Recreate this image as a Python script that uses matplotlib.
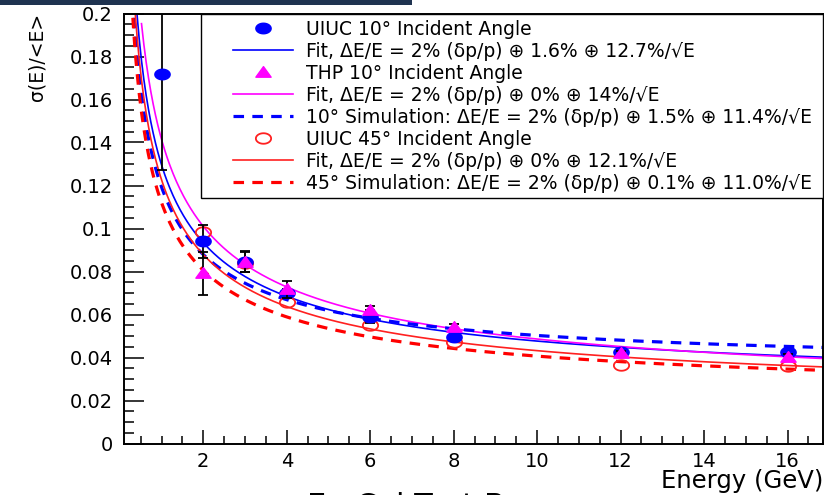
import numpy as np
import matplotlib
matplotlib.use("Agg")
import matplotlib.pyplot as plt
from matplotlib.lines import Line2D
from matplotlib.patches import Rectangle
from matplotlib.path import Path

plt.rcParams['font.family'] = ['DejaVu Sans']

# measured points (energy in GeV)
uiuc10_E = [1, 2, 3, 4, 6, 8, 12, 16]
uiuc10_res = [0.172, 0.094, 0.0846, 0.070, 0.059, 0.0497, 0.0427, 0.0427]
uiuc10_err = [0.045, 0.0076, 0.0046, 0.002, 0.003, 0.002, 0.001, 0.001]

thp10_E = [2, 3, 4, 6, 8, 12, 16]
thp10_res = [0.0793, 0.0846, 0.0717, 0.062, 0.0543, 0.042, 0.0404]
thp10_err = [0.010, 0.0048, 0.004, 0.002, 0.0015, 0.001, 0.001]

uiuc45_E = [2, 3, 4, 6, 8, 12, 16]
uiuc45_res = [0.0985, 0.084, 0.066, 0.055, 0.047, 0.0365, 0.036]

# fit / simulation terms from the legend: dp/p term, constant, stochastic
curve_dp = [0.02, 0.02, 0.02, 0.02, 0.02]
curve_const = [0.016, 0.0, 0.015, 0.0, 0.001]
curve_stoch = [0.127, 0.14, 0.114, 0.121, 0.110]
curve_linear = [False, False, True, False, True]  # sims add dp/p and const linearly
curve_start = [0.1, 0.5, 0.1, 0.1, 0.1]

legend_labels = [
    "UIUC 10° Incident Angle",
    "Fit, ΔE/E = 2% (δp/p) ⊕ 1.6% ⊕ 12.7%/√E",
    "THP 10° Incident Angle",
    "Fit, ΔE/E = 2% (δp/p) ⊕ 0% ⊕ 14%/√E",
    "10° Simulation: ΔE/E = 2% (δp/p) ⊕ 1.5% ⊕ 11.4%/√E",
    "UIUC 45° Incident Angle",
    "Fit, ΔE/E = 2% (δp/p) ⊕ 0% ⊕ 12.1%/√E",
    "45° Simulation: ΔE/E = 2% (δp/p) ⊕ 0.1% ⊕ 11.0%/√E",
]

y_ticks = [0, 0.02, 0.04, 0.06, 0.08, 0.1, 0.12, 0.14, 0.16, 0.18, 0.2]
y_ticklabels = ["0", "0.02", "0.04", "0.06", "0.08", "0.1", "0.12", "0.14", "0.16", "0.18", "0.2"]
x_ticks = [2, 4, 6, 8, 10, 12, 14, 16]

# the screenshot is stretched sideways, so make wide markers
t = np.linspace(0, 2 * np.pi, 40)
ell = Path(np.column_stack([1.45 * np.cos(t), np.sin(t)]), closed=True)
tri = Path([(-1.3, -0.8), (1.3, -0.8), (0, 1.0), (-1.3, -0.8)], closed=True)

fig = plt.figure(figsize=(8.25, 4.95), dpi=100)
fig.patch.set_facecolor('white')
W, H = 825, 495
ax = fig.add_axes([124 / W, 1 - 443.5 / H, 699 / W, 430 / H])

# slide leftovers around the crop
fig.patches.append(Rectangle((0, 1 - 5 / H), 412 / W, 5 / H, transform=fig.transFigure,
                             facecolor='#1f3350', edgecolor='none'))
fig.text(307 / W, 1 - 515 / H, "EmCal Test Beam", fontsize=22, ha='left', va='baseline', color='black')

E = np.linspace(0.1, 16.85, 600)
styles = [
    dict(color='#0000ff', lw=1.2, ls='-'),
    dict(color='#ff00ff', lw=1.2, ls='-'),
    dict(color='#0000ff', lw=2.3, ls=(0, (3.3, 2.6))),
    dict(color='#ff2020', lw=1.2, ls='-'),
    dict(color='#ff0000', lw=2.3, ls=(0, (3.3, 2.6))),
]
for i in range(5):
    e = E[E >= curve_start[i]]
    if curve_linear[i]:
        c = curve_dp[i] + curve_const[i]
    else:
        c = np.hypot(curve_dp[i], curve_const[i])
    res = np.sqrt(c ** 2 + curve_stoch[i] ** 2 / e)
    ax.plot(e, res, zorder=2, **styles[i])

ax.plot(uiuc45_E, uiuc45_res, ls='none', marker=ell, ms=11, mfc='none', mec='#ff2020', mew=1.3, zorder=3)
ax.errorbar(uiuc10_E, uiuc10_res, yerr=uiuc10_err, fmt='none', ecolor='black', elinewidth=1.3,
            capsize=3.5, capthick=1.3, zorder=4)
ax.plot(uiuc10_E, uiuc10_res, ls='none', marker=ell, ms=11, mfc='#0000ff', mec='#0000ff', zorder=5)
ax.errorbar(thp10_E, thp10_res, yerr=thp10_err, fmt='none', ecolor='black', elinewidth=1.3,
            capsize=3.5, capthick=1.3, zorder=6)
ax.plot(thp10_E, thp10_res, ls='none', marker=tri, ms=11, mfc='#ff00ff', mec='#ff00ff', zorder=7)

ax.set_xlim(0.1, 16.85)
ax.set_ylim(0, 0.2)
ax.set_xticks(x_ticks)
ax.set_xticks(np.arange(0.5, 16.9, 0.5), minor=True)
ax.set_yticks(y_ticks)
ax.set_yticklabels(y_ticklabels)
ax.set_yticks(np.arange(0, 0.2001, 0.005), minor=True)
ax.tick_params(axis='both', which='both', direction='in', width=1.1, labelsize=14)
ax.tick_params(axis='x', which='major', length=10, pad=6)
ax.tick_params(axis='x', which='minor', length=5.8)
ax.tick_params(axis='y', which='major', length=14.4, pad=8)
ax.tick_params(axis='y', which='minor', length=7.2)
for s in ax.spines.values():
    s.set_linewidth(1.4)

fig.text(823 / W, 1 - 481 / H, "Energy (GeV)", fontsize=17.5, ha='right', va='center')
fig.text(37 / W, 1 - 13 / H, "σ(E)/<E>", fontsize=13.5, rotation=90, ha='center', va='top')

# legend box
ax.add_patch(Rectangle(((201 - 124) / 699, (443.5 - 198) / 430), (823 - 201) / 699, (198 - 13.5) / 430,
                       transform=ax.transAxes, facecolor='white', edgecolor='black', lw=1.0, zorder=8))
handles = [
    Line2D([], [], ls='none', marker=ell, ms=11, mfc='#0000ff', mec='#0000ff'),
    Line2D([], [], **styles[0]),
    Line2D([], [], ls='none', marker=tri, ms=11, mfc='#ff00ff', mec='#ff00ff'),
    Line2D([], [], **styles[1]),
    Line2D([], [], **styles[2]),
    Line2D([], [], ls='none', marker=ell, ms=11, mfc='none', mec='#ff2020', mew=1.3),
    Line2D([], [], **styles[3]),
    Line2D([], [], **styles[4]),
]
leg = ax.legend(handles, legend_labels, loc='upper left', frameon=False, fontsize=13.5,
                bbox_to_anchor=((233 - 124) / 699, (443.5 - 20) / 430), borderpad=0, borderaxespad=0,
                handlelength=3.2, handletextpad=0.7, labelspacing=0.16)
leg.set_zorder(9)

fig.savefig("out.png", dpi=100)
